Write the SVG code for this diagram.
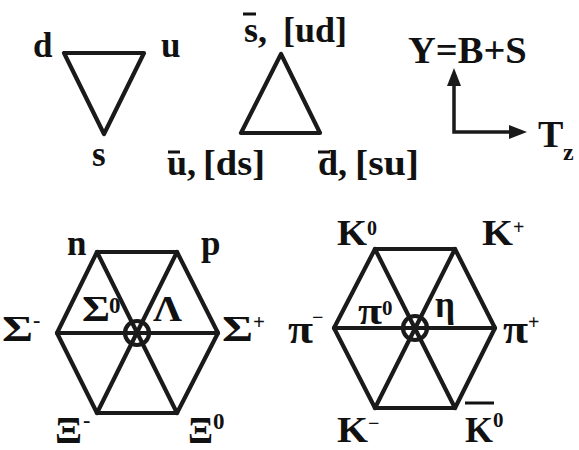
<svg xmlns="http://www.w3.org/2000/svg" width="579" height="450" viewBox="0 0 579 450">
<style>
.t{font-family:"Liberation Serif","Times New Roman",serif;font-weight:bold;fill:#111}
.ln{stroke:#1a1a1a;stroke-width:4.2;fill:none;stroke-linejoin:round;stroke-linecap:round}
.ax{stroke:#1a1a1a;stroke-width:3.5;fill:none}
.ob{stroke:#111;stroke-width:3}
.hd{fill:#1a1a1a}
</style>
<rect width="579" height="450" fill="#fff"/>

<g id="quark-triplet">
<polygon class="ln" points="64,53 144,53 104,134"/>
<text class="t" x="33" y="57" font-size="35">d</text>
<text class="t" x="161" y="57" font-size="35">u</text>
<text class="t" x="92" y="166" font-size="35">s</text>
</g>

<g id="antiquark-triplet">
<polygon class="ln" points="281,54 241,133 320,133"/>
<text class="t" x="244" y="42" font-size="36">s,</text>
<text class="t" x="283" y="42" font-size="36" textLength="64" lengthAdjust="spacingAndGlyphs">[ud]</text>
<line class="ob" x1="243" y1="14" x2="256" y2="14"/>
<text class="t" x="167" y="175" font-size="36">u,</text>
<text class="t" x="203" y="175" font-size="36" textLength="62" lengthAdjust="spacingAndGlyphs">[ds]</text>
<line class="ob" x1="168" y1="152" x2="180" y2="152"/>
<text class="t" x="318" y="175" font-size="36">d,</text>
<text class="t" x="355" y="175" font-size="36" textLength="64" lengthAdjust="spacingAndGlyphs">[su]</text>
<line class="ob" x1="318" y1="152" x2="330" y2="152"/>
</g>

<g id="axes">
<text class="t" x="408" y="63" font-size="38.5">Y=B+S</text>
<text class="t" x="538" y="147" font-size="38">T</text>
<text class="t" x="563" y="160" font-size="24">z</text>
</g>

<g id="connectors">
<polyline class="ax" points="454,84 454,132 510,132"/>
<path class="hd" d="M454,68 L447,86 L461,86 z"/>
<path class="hd" d="M527,132 L509,125 L509,139 z"/>
</g>

<g id="baryon-octet">
<polygon class="ln" points="97,252 177,252 218,333 177,413 97,413 57,333"/>
<line class="ln" x1="97" y1="252" x2="177" y2="413"/>
<line class="ln" x1="177" y1="252" x2="97" y2="413"/>
<line class="ln" x1="57" y1="333" x2="218" y2="333"/>
<circle class="ln" cx="137" cy="333" r="12"/>
<text class="t" x="67" y="255" font-size="35">n</text>
<text class="t" x="201" y="255" font-size="35">p</text>
<text class="t" x="2" y="341" font-size="36" textLength="31" lengthAdjust="spacingAndGlyphs">Σ</text>
<text class="t" x="33" y="327" font-size="22">-</text>
<text class="t" x="82" y="321" font-size="36" textLength="28" lengthAdjust="spacingAndGlyphs">Σ</text>
<text class="t" x="109" y="313" font-size="23">0</text>
<text class="t" x="153" y="321" font-size="36" textLength="29" lengthAdjust="spacingAndGlyphs">Λ</text>
<text class="t" x="222" y="341" font-size="36" textLength="31" lengthAdjust="spacingAndGlyphs">Σ</text>
<text class="t" x="253" y="329" font-size="21">+</text>
<text class="t" x="55" y="443" font-size="37" textLength="27" lengthAdjust="spacingAndGlyphs">Ξ</text>
<text class="t" x="83" y="427" font-size="22">-</text>
<text class="t" x="188" y="443" font-size="37" textLength="25" lengthAdjust="spacingAndGlyphs">Ξ</text>
<text class="t" x="213" y="429" font-size="23">0</text>
</g>

<g id="meson-octet">
<polygon class="ln" points="375,249 455,249 495,328 455,408 375,408 334,328"/>
<line class="ln" x1="375" y1="249" x2="455" y2="408"/>
<line class="ln" x1="455" y1="249" x2="375" y2="408"/>
<line class="ln" x1="334" y1="328" x2="495" y2="328"/>
<circle class="ln" cx="415" cy="328" r="12"/>
<text class="t" x="337" y="245" font-size="36" textLength="30" lengthAdjust="spacingAndGlyphs">K</text>
<text class="t" x="367" y="235" font-size="20">0</text>
<text class="t" x="482" y="245" font-size="36" textLength="31" lengthAdjust="spacingAndGlyphs">K</text>
<text class="t" x="513" y="234" font-size="20">+</text>
<text class="t" x="288" y="343" font-size="39" textLength="25" lengthAdjust="spacingAndGlyphs">π</text>
<text class="t" x="312" y="324" font-size="20">−</text>
<text class="t" x="358" y="324" font-size="37" textLength="24" lengthAdjust="spacingAndGlyphs">π</text>
<text class="t" x="382" y="315" font-size="21">0</text>
<text class="t" x="435" y="317" font-size="38" textLength="20" lengthAdjust="spacingAndGlyphs">η</text>
<text class="t" x="503" y="343" font-size="39" textLength="25" lengthAdjust="spacingAndGlyphs">π</text>
<text class="t" x="528" y="329" font-size="20">+</text>
<text class="t" x="337" y="442" font-size="36" textLength="31" lengthAdjust="spacingAndGlyphs">K</text>
<text class="t" x="368" y="430" font-size="20">−</text>
<text class="t" x="465" y="442" font-size="36" textLength="28" lengthAdjust="spacingAndGlyphs">K</text>
<text class="t" x="493" y="427" font-size="21">0</text>
<line class="ob" x1="465" y1="403" x2="494" y2="403"/>
</g>
</svg>
